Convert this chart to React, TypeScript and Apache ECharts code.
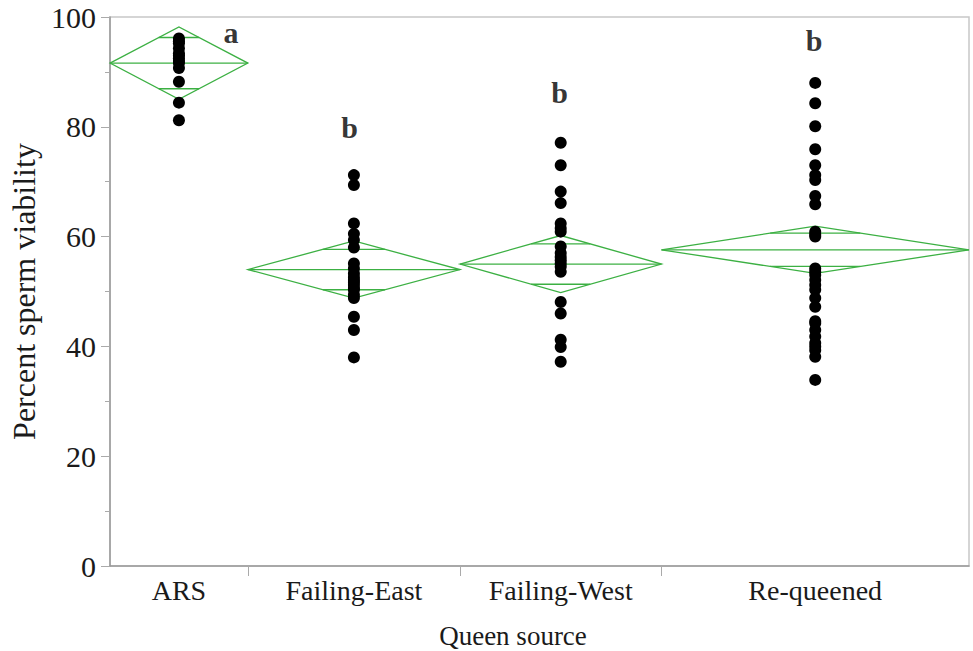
import React, { useEffect, useRef } from "react";
import * as echarts from "echarts";

const categories = ["ARS", "Failing-East", "Failing-West", "Re-queened"];
const groupSizes = [13, 20, 19, 29];

const arsValues = [96.1, 95.6, 95.2, 94.3, 93.4, 93.0, 92.5, 92.0, 91.6, 90.7, 88.2, 84.4, 81.2];
const failingEastValues = [71.2, 69.4, 62.4, 60.5, 59.4, 58.0, 55.1, 54.2, 53.3, 52.6, 52.1, 51.7, 51.2, 50.6, 50.3, 49.4, 48.8, 45.4, 43.0, 38.0];
const failingWestValues = [77.1, 73.0, 68.2, 66.1, 62.4, 61.5, 60.9, 58.2, 57.0, 56.3, 55.7, 55.1, 54.5, 53.6, 48.1, 46.0, 41.2, 39.9, 37.2];
const requeenedValues = [88.0, 84.3, 80.1, 75.9, 73.0, 71.2, 70.3, 67.4, 65.9, 60.9, 60.4, 60.0, 54.2, 53.6, 53.0, 52.1, 51.2, 50.3, 48.8, 47.2, 44.6, 44.2, 43.0, 41.8, 40.6, 40.0, 39.3, 38.1, 33.9];

const groupMeans = [91.6, 54.0, 55.0, 57.6];
const ciLower = [85.0, 48.8, 49.8, 53.3];
const ciUpper = [98.2, 59.2, 60.2, 61.9];

const letters = ["a", "b", "b", "b"];
const letterX = [11.4, 22.6, 42.4, 66.4];
const letterY = [97.1, 79.8, 86.2, 95.8];

const yTicks = [0, 20, 40, 60, 80, 100];

const xTitle = "Queen source";
const yTitle = "Percent sperm viability";

const SERIF = "'Liberation Serif', 'Times New Roman', serif";
const GREEN = "#3cb043";

export default function App() {
  const ref = useRef<HTMLDivElement>(null);

  useEffect(() => {
    if (!ref.current) return;
    const chart = echarts.init(ref.current, undefined, { renderer: "svg" });

    const starts: number[] = [];
    const ends: number[] = [];
    let acc = 0;
    groupSizes.forEach((n) => {
      starts.push(acc);
      acc += n;
      ends.push(acc);
    });
    const total = acc;
    const centers = starts.map((s, i) => (s + ends[i]) / 2);
    const boundaries = ends.slice(0, -1);

    const groups = [arsValues, failingEastValues, failingWestValues, requeenedValues];
    const points: number[][] = [];
    groups.forEach((vals, i) => vals.forEach((v) => points.push([centers[i], v])));

    const diamondData = categories.map((_, i) => [starts[i], ends[i], groupMeans[i], ciLower[i], ciUpper[i]]);

    const option: any = {
      animation: false,
      backgroundColor: "#ffffff",
      grid: {
        left: 109,
        right: 4,
        top: 17,
        bottom: 85,
        show: true,
        borderColor: "#c8c8c8",
        borderWidth: 1.5,
      },
      graphic: [
        {
          type: "text",
          x: 513,
          y: 636,
          style: {
            text: xTitle,
            fontFamily: SERIF,
            fontSize: 27,
            fill: "#1a1a1a",
            align: "center",
            verticalAlign: "middle",
          },
        },
      ],
      xAxis: {
        type: "value",
        min: 0,
        max: total,
        axisLine: { show: true, lineStyle: { color: "#999999", width: 1.5 } },
        axisTick: { show: true, customValues: boundaries, length: 10, lineStyle: { color: "#aaaaaa" } },
        axisLabel: {
          customValues: centers,
          margin: 10,
          fontFamily: SERIF,
          fontSize: 28,
          color: "#1a1a1a",
          formatter: (v: number) => {
            let best = 0;
            centers.forEach((c, i) => {
              if (Math.abs(c - v) < Math.abs(centers[best] - v)) best = i;
            });
            return categories[best];
          },
        },
        splitLine: { show: false },
      },
      yAxis: {
        type: "value",
        min: 0,
        max: 100,
        interval: 20,
        name: yTitle,
        nameLocation: "middle",
        nameGap: 70,
        nameTextStyle: { fontFamily: SERIF, fontSize: 32, color: "#1a1a1a" },
        axisLine: { show: true, lineStyle: { color: "#999999", width: 1.5 } },
        axisTick: { show: true, length: 9, lineStyle: { color: "#aaaaaa" } },
        minorTick: { show: true, splitNumber: 2, length: 5, lineStyle: { color: "#aaaaaa" } },
        axisLabel: {
          margin: 14,
          fontFamily: SERIF,
          fontSize: 30,
          color: "#1a1a1a",
          customValues: yTicks,
        },
        splitLine: { show: false },
      },
      series: [
        {
          type: "custom",
          z: 2,
          data: diamondData,
          renderItem: (params: any, api: any) => {
            const s = api.value(0);
            const e = api.value(1);
            const m = api.value(2);
            const lo = api.value(3);
            const hi = api.value(4);
            const c = (s + e) / 2;
            const pL = api.coord([s, m]);
            const pR = api.coord([e, m]);
            const pT = api.coord([c, hi]);
            const pB = api.coord([c, lo]);
            const half = (pR[0] - pL[0]) / 2;
            const cx = (pR[0] + pL[0]) / 2;
            const f = 1 - Math.SQRT1_2;
            const oHi = api.coord([c, m + (hi - m) * Math.SQRT1_2])[1];
            const oLo = api.coord([c, m - (m - lo) * Math.SQRT1_2])[1];
            const style = { stroke: GREEN, lineWidth: 1.3, fill: "none" };
            return {
              type: "group",
              children: [
                { type: "polygon", shape: { points: [pL, pT, pR, pB] }, style },
                { type: "line", shape: { x1: pL[0], y1: pL[1], x2: pR[0], y2: pR[1] }, style },
                { type: "line", shape: { x1: cx - half * f, y1: oHi, x2: cx + half * f, y2: oHi }, style },
                { type: "line", shape: { x1: cx - half * f, y1: oLo, x2: cx + half * f, y2: oLo }, style },
              ],
            };
          },
        },
        {
          type: "scatter",
          z: 3,
          symbolSize: 12,
          itemStyle: { color: "#000000", opacity: 1 },
          data: points,
        },
        {
          type: "scatter",
          z: 4,
          symbolSize: 0,
          data: letters.map((l, i) => ({ value: [letterX[i], letterY[i]], name: l })),
          label: {
            show: true,
            position: "inside",
            formatter: (p: any) => p.name,
            fontFamily: SERIF,
            fontWeight: "bold",
            fontSize: 30,
            color: "#000000",
            textBorderWidth: 0,
          },
        },
      ],
    };

    chart.setOption(option);
    return () => chart.dispose();
  }, []);

  return (
    <div
      ref={ref}
      style={{ position: "fixed", left: 0, top: 0, width: 973, height: 651, background: "#fff" }}
    />
  );
}
